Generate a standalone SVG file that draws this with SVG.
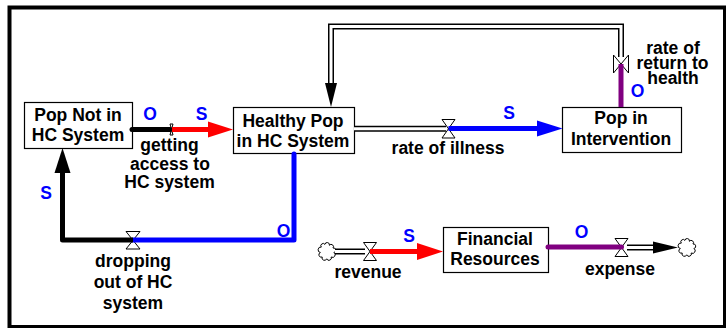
<svg xmlns="http://www.w3.org/2000/svg" xmlns:xlink="http://www.w3.org/1999/xlink" width="726" height="328" viewBox="0 0 726 328">
  <defs>
    <style>
      .t{font-family:"Liberation Sans",Arial,Helvetica,sans-serif;font-weight:bold;font-size:17.5px;fill:#000;text-anchor:middle}
      .pol{fill:#0000ff}
      .box{fill:#fff;stroke:#000;stroke-width:1.2}
      .pipe-o{fill:none;stroke:#000;stroke-width:6}
      .pipe-i{fill:none;stroke:#fff;stroke-width:3}
      .valve{fill:#fff;stroke:#000;stroke-width:1}
      .cloud{fill:#fff;stroke:#000;stroke-width:1.1}
      .line{fill:none;stroke-width:5;stroke-linejoin:round}
      .rc{stroke-linecap:round}
      .k{stroke:#000}.kf{fill:#000}
      .r{stroke:#ff0000}.rf{fill:#ff0000}
      .b{stroke:#0000ff}.bf{fill:#0000ff}
      .p{stroke:#800080}
    </style>
    <!-- bumpy cloud outline for sources and sinks -->
    <path id="cloud" d="M2,4 a1,1 0 0 1 4,-3 a1,1 0 0 1 5,1 a1,1 0 0 1 4,3 a1,1 0 0 1 1,5 a1,1 0 0 1 -3,5 a1,1 0 0 1 -5,2 a1,1 0 0 1 -5,-2 a1,1 0 0 1 -2,-5 a1,1 0 0 1 1,-6 Z"/>
  </defs>

  <!-- frame -->
  <rect x="9.5" y="7.5" width="715.5" height="319.5" fill="#fff" stroke="#000" stroke-width="4"/>

  <!-- stocks -->
  <g id="pop-not-in-hc">
    <rect class="box" x="24.5" y="102.5" width="108" height="46"/>
    <text class="t" x="78" y="121">Pop Not in</text>
    <text class="t" x="78" y="141">HC System</text>
  </g>
  <g id="healthy-pop">
    <rect class="box" x="233.5" y="107.5" width="121" height="46"/>
    <text class="t" x="293" y="127">Healthy Pop</text>
    <text class="t" x="293" y="147">in HC System</text>
  </g>
  <g id="pop-in-intervention">
    <rect class="box" x="562.5" y="107.5" width="119" height="45"/>
    <text class="t" x="621" y="124">Pop in</text>
    <text class="t" x="621" y="145">Intervention</text>
  </g>
  <g id="financial-resources">
    <rect class="box" x="443.5" y="227.5" width="105" height="45"/>
    <text class="t" x="495" y="245">Financial</text>
    <text class="t" x="495" y="265">Resources</text>
  </g>

  <!-- sources / sinks -->
  <g id="revenue-source"><use xlink:href="#cloud" class="cloud" transform="translate(319.5,243.5) scale(0.9)"/></g>
  <g id="expense-sink"><use xlink:href="#cloud" class="cloud" transform="translate(679.5,239.5) scale(0.9)"/></g>

  <!-- flows: valves and names -->
  <g id="getting-access">
    <path class="valve" d="M170,124 H173 L170,135 H173 Z"/>
    <text class="t" x="169.5" y="151">getting</text>
    <text class="t" x="170" y="169.5">access to</text>
    <text class="t" x="169.5" y="188">HC system</text>
  </g>
  <g id="rate-of-illness">
    <path class="valve" d="M442,119.5 H455 L442,138 H455 Z"/>
    <text class="t" x="448" y="154">rate of illness</text>
  </g>
  <g id="rate-of-return">
    <path class="valve" d="M613.5,55 V73 L628.5,55 V73 Z"/>
    <text class="t" x="673" y="53.5">rate of</text>
    <text class="t" x="672.5" y="69">return to</text>
    <text class="t" x="673" y="84">health</text>
  </g>
  <g id="dropping-out">
    <path class="valve" d="M126,231.5 H140 L126,249 H140 Z"/>
    <text class="t" x="133" y="266.5">dropping</text>
    <text class="t" x="133" y="288">out of HC</text>
    <text class="t" x="133" y="309">system</text>
  </g>
  <g id="revenue">
    <path class="valve" d="M363.5,242.5 H376.5 L363.5,260.5 H376.5 Z"/>
    <text class="t" x="368" y="278">revenue</text>
  </g>
  <g id="expense">
    <path class="valve" d="M615,238.5 H628 L615,256.5 H628 Z"/>
    <text class="t" x="620" y="275">expense</text>
  </g>

  <!-- connectors -->
  <g id="connectors">
    <!-- material pipes -->
    <path class="pipe-o" d="M354,128.7 H446"/>
    <path class="pipe-i" d="M354,128.7 H446"/>
    <path class="pipe-o" d="M621,57 V26.5 H331 V84"/>
    <path class="pipe-i" d="M621,57 V26.5 H331 V84"/>
    <path class="kf" d="M325,83 L331,107 L337,83 Z"/>
    <path class="pipe-o" d="M335,251.5 H365"/>
    <path class="pipe-i" d="M335,251.5 H365"/>
    <path class="pipe-o" d="M627,247.5 H654"/>
    <path class="pipe-i" d="M627,247.5 H654"/>
    <path class="kf" d="M653,241.5 L678,247.5 L653,253.5 Z"/>

    <!-- getting access: O then S -->
    <path class="line k rc" d="M132,129.5 H170"/>
    <path class="line r" d="M172,129.5 H209"/>
    <path class="rf" d="M208,121.5 L233,129.5 L208,137.5 Z"/>
    <text class="t pol" x="150" y="120">O</text>
    <text class="t pol" x="201.7" y="120">S</text>

    <!-- rate of illness -->
    <path class="line b" d="M448.5,128.5 H538"/>
    <path class="bf" d="M537,120.5 L562.5,128.5 L537,136.5 Z"/>
    <text class="t pol" x="509" y="119">S</text>

    <!-- rate of return to health -->
    <path class="line p" d="M621,64 V107"/>
    <text class="t pol" x="637.5" y="97">O</text>

    <!-- dropping out -->
    <path class="line b rc" d="M294,154 V240 H133"/>
    <path class="line k" d="M133,240 H62.5 V172"/>
    <path class="kf" d="M54.5,173 L62.5,148 L70.5,173 Z"/>
    <text class="t pol" x="46" y="199">S</text>
    <text class="t pol" x="283.5" y="237">O</text>

    <!-- revenue -->
    <path class="line r" d="M370,251.5 H418"/>
    <path class="rf" d="M417,243 L443,251.5 L417,260 Z"/>
    <text class="t pol" x="409" y="242">S</text>

    <!-- expense -->
    <path class="line p rc" d="M548,247 H621.5"/>
    <text class="t pol" x="581.5" y="238">O</text>
  </g>
</svg>
